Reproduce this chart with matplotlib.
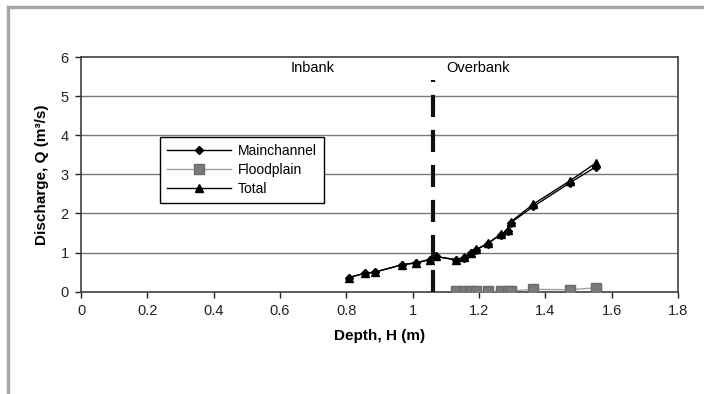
import matplotlib
matplotlib.use("Agg")
import matplotlib.pyplot as plt
from matplotlib.lines import Line2D
from matplotlib.ticker import FuncFormatter, MultipleLocator

plt.rcParams["font.family"] = ["Liberation Sans", "DejaVu Sans"]

# Stage-discharge measurements (depth in m, discharge in m^3/s)
depth = [0.807, 0.855, 0.885, 0.969, 1.011, 1.051, 1.069, 1.132, 1.154,
         1.175, 1.192, 1.227, 1.265, 1.288, 1.295, 1.364, 1.475, 1.554]
q_total = [0.36, 0.47, 0.50, 0.69, 0.74, 0.82, 0.90, 0.82, 0.88,
           1.00, 1.08, 1.24, 1.47, 1.57, 1.78, 2.24, 2.84, 3.30]
q_main = [0.36, 0.47, 0.50, 0.69, 0.74, 0.82, 0.90, 0.81, 0.87,
          0.99, 1.07, 1.23, 1.46, 1.56, 1.76, 2.18, 2.79, 3.20]

depth_fp = [1.132, 1.154, 1.175, 1.192, 1.227, 1.265, 1.288, 1.295,
            1.364, 1.475, 1.554]
q_fp = [0.01, 0.01, 0.01, 0.01, 0.01, 0.01, 0.01, 0.02, 0.06, 0.05, 0.10]

bankfull = 1.06

fig = plt.figure(figsize=(7.04, 3.94), dpi=100)
ax = fig.add_axes([81 / 704, 1 - 291.7 / 394, (678 - 81) / 704, (291.7 - 57) / 394])

# horizontal gridlines
for yv in range(1, 6):
    ax.axhline(yv, color="#7a7a7a", lw=1.0, zorder=1)

ax.plot(depth, q_main, color="black", lw=1.0, marker="D", ms=4,
        mfc="black", mec="black", label="Mainchannel", zorder=4)
ax.plot(depth_fp, q_fp, color="#a0a0a0", lw=1.0, marker="s", ms=6.5,
        mfc="#7a7a7a", mec="#6a6a6a", label="Floodplain", zorder=3)
ax.plot(depth, q_total, color="black", lw=1.0, marker="^", ms=6,
        mfc="black", mec="black", label="Total", zorder=5)

# bankfull divider
ax.plot([bankfull, bankfull], [0, 5.42], color="#111111", lw=3,
        dashes=(5.3, 3.1), zorder=6)
ax.text(0.698, 5.73, "Inbank", ha="center", va="center", fontsize=10.5)
ax.text(1.196, 5.73, "Overbank", ha="center", va="center", fontsize=10.5)

ax.set_xlim(0, 1.8)
ax.set_ylim(0, 6)
ax.xaxis.set_major_locator(MultipleLocator(0.2))
ax.yaxis.set_major_locator(MultipleLocator(1))
ax.xaxis.set_major_formatter(FuncFormatter(lambda v, p: "%g" % round(v, 1)))
ax.tick_params(direction="out", length=4, width=1, labelsize=10.5,
               colors="#222222", pad=5)
for s in ax.spines.values():
    s.set_color("#404040")
    s.set_linewidth(1.2)

ax.set_xlabel("Depth, H (m)", fontsize=11, fontweight="bold", labelpad=8)
ax.set_ylabel("Discharge, Q (m³/s)", fontsize=11, fontweight="bold", labelpad=8)

leg = ax.legend(loc="upper left", bbox_to_anchor=(160 / 704, 1 - 137 / 394),
                bbox_transform=fig.transFigure, borderaxespad=0,
                fancybox=False, frameon=True, edgecolor="black", framealpha=1,
                fontsize=10, handlelength=4.6, handletextpad=0.5,
                borderpad=0.5, labelspacing=0.35)
leg.get_frame().set_linewidth(1.0)
leg.set_zorder(10)

# outer panel frame
fig.add_artist(Line2D([8 / 704, 1], [1 - 7 / 394, 1 - 7 / 394],
                      color="#a6a6a6", lw=2.4))
fig.add_artist(Line2D([8 / 704, 8 / 704], [0, 1 - 7 / 394],
                      color="#a6a6a6", lw=2.4))

fig.savefig("out.png", dpi=100, facecolor="white")
